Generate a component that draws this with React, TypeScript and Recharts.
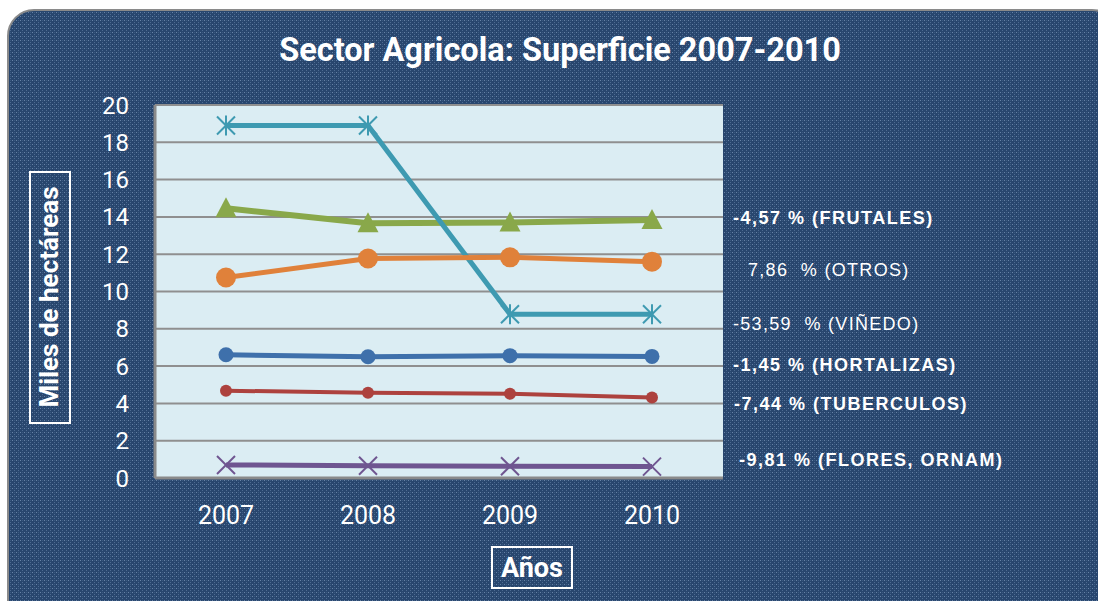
import React from "react";
import { LineChart, Line, XAxis, YAxis, CartesianGrid } from "recharts";

const years = ["2007", "2008", "2009", "2010"];
const hortalizas = [6.61, 6.5, 6.56, 6.52];
const tuberculos = [4.68, 4.57, 4.52, 4.32];
const frutales = [14.46, 13.66, 13.7, 13.84];
const flores = [0.7, 0.66, 0.63, 0.61];
const vinedo = [18.9, 18.9, 8.78, 8.78];
const otros = [10.75, 11.77, 11.83, 11.6];
const yTicks = [0, 2, 4, 6, 8, 10, 12, 14, 16, 18, 20];

const title = "Sector Agricola: Superficie 2007-2010";
const yTitle = "Miles de hectáreas";
const xTitle = "Años";
const sideLabels = [
  { text: "-4,57 % (FRUTALES)", x: 733, y: 224, bold: true },
  { text: "7,86  % (OTROS)", x: 748, y: 276, bold: false },
  { text: "-53,59  % (VIÑEDO)", x: 733, y: 330, bold: false },
  { text: "-1,45 % (HORTALIZAS)", x: 733, y: 371, bold: true },
  { text: "-7,44 % (TUBERCULOS)", x: 734, y: 410, bold: true },
  { text: "-9,81 % (FLORES, ORNAM)", x: 739, y: 466, bold: true },
];

const data = years.map((y, i) => ({
  year: y,
  hortalizas: hortalizas[i],
  tuberculos: tuberculos[i],
  frutales: frutales[i],
  flores: flores[i],
  vinedo: vinedo[i],
  otros: otros[i],
}));

const circleDot = (r: number, color: string) => (p: any) => (
  <circle key={p.index} cx={p.cx} cy={p.cy} r={r} fill={color} stroke="none" />
);

const triDot = (color: string) => (p: any) => {
  const w = 10.5, h = 20;
  return (
    <polygon
      key={p.index}
      points={`${p.cx},${p.cy - h / 2 - 1} ${p.cx - w},${p.cy + h / 2 - 1} ${p.cx + w},${p.cy + h / 2 - 1}`}
      fill={color}
    />
  );
};

const xDot = (color: string, s: number) => (p: any) => (
  <g key={p.index} stroke={color} strokeWidth={2}>
    <line x1={p.cx - s} y1={p.cy - s} x2={p.cx + s} y2={p.cy + s} />
    <line x1={p.cx - s} y1={p.cy + s} x2={p.cx + s} y2={p.cy - s} />
  </g>
);

const starDot = (color: string, s: number) => (p: any) => (
  <g key={p.index} stroke={color} strokeWidth={2}>
    <line x1={p.cx - s} y1={p.cy - s} x2={p.cx + s} y2={p.cy + s} />
    <line x1={p.cx - s} y1={p.cy + s} x2={p.cx + s} y2={p.cy - s} />
    <line x1={p.cx} y1={p.cy - s - 1} x2={p.cx} y2={p.cy + s + 1} />
  </g>
);

const FONT = "Roboto, 'Liberation Sans', sans-serif";

export default function App() {
  return (
    <div style={{ position: "absolute", left: 0, top: 0, width: 1098, height: 601, overflow: "hidden", background: "#ffffff" }}>
      <svg width={1098} height={601} style={{ position: "absolute", left: 0, top: 0 }}>
        <defs>
          <pattern id="bgpat" width="4" height="4" patternUnits="userSpaceOnUse">
            <rect width="4" height="4" fill="#28466e" />
            <rect x="0" y="0" width="1" height="1" fill="#6682a6" />
            <rect x="2" y="2" width="1" height="1" fill="#4d6b92" />
            <rect x="2" y="0" width="1" height="1" fill="#3b5a81" />
          </pattern>
        </defs>
        <rect x={8} y={10} width={1110} height={620} rx={26} ry={26} fill="url(#bgpat)" stroke="#8a8a8a" strokeWidth={2} />
      </svg>
      <div style={{ position: "absolute", left: 0, top: 0 }}>
        <LineChart width={1098} height={601} data={data} margin={{ top: 105, right: 375, bottom: 0, left: 0 }}>
          <CartesianGrid vertical={false} stroke="#8f8f8f" strokeWidth={2} fill="#dbedf3" fillOpacity={1} />
          <XAxis
            dataKey="year"
            height={123}
            padding={{ left: 71, right: 71 }}
            tickLine={false}
            tickSize={0}
            tickMargin={28}
            axisLine={{ stroke: "#8a8a8a", strokeWidth: 3 }}
            tick={{ fill: "#ffffff", fontSize: 25, fontFamily: FONT }}
            interval={0}
          />
          <YAxis
            width={155}
            domain={[0, 20]}
            ticks={yTicks}
            interval={0}
            tickLine={false}
            tickSize={0}
            tickMargin={26}
            axisLine={{ stroke: "#8a8a8a", strokeWidth: 3 }}
            tick={{ fill: "#ffffff", fontSize: 24, fontFamily: FONT }}
          />
          <Line dataKey="hortalizas" stroke="#3e70ab" strokeWidth={5} dot={circleDot(7.5, "#3e70ab")} isAnimationActive={false} />
          <Line dataKey="tuberculos" stroke="#ad423e" strokeWidth={4} dot={circleDot(6, "#ad423e")} isAnimationActive={false} />
          <Line dataKey="frutales" stroke="#89a84a" strokeWidth={6} dot={triDot("#89a84a")} isAnimationActive={false} />
          <Line dataKey="flores" stroke="#6f5590" strokeWidth={5} dot={xDot("#6f5590", 9)} isAnimationActive={false} />
          <Line dataKey="vinedo" stroke="#3e9ab1" strokeWidth={5} dot={starDot("#3e9ab1", 9)} isAnimationActive={false} />
          <Line dataKey="otros" stroke="#e0813a" strokeWidth={5} dot={circleDot(10, "#e0813a")} isAnimationActive={false} />
        </LineChart>
      </div>
      <svg width={1098} height={601} style={{ position: "absolute", left: 0, top: 0, pointerEvents: "none" }}>
        <text x={560} y={61} textAnchor="middle" fill="#ffffff" fontSize={32.5} fontWeight="bold" fontFamily={FONT}>
          {title}
        </text>
        <rect x={30} y={172} width={40} height={251} fill="none" stroke="#ffffff" strokeWidth={2} />
        <text
          x={0}
          y={0}
          transform="translate(58,297) rotate(-90)"
          textAnchor="middle"
          fill="#ffffff"
          fontSize={26}
          fontWeight="bold"
          fontFamily={FONT}
        >
          {yTitle}
        </text>
        <rect x={492} y={547} width={80} height={41} fill="none" stroke="#ffffff" strokeWidth={2} />
        <text x={532} y={577} textAnchor="middle" fill="#ffffff" fontSize={27} fontWeight="bold" fontFamily={FONT}>
          {xTitle}
        </text>
        {sideLabels.map((l) => (
          <text
            key={l.text}
            x={l.x}
            y={l.y}
            fill="#ffffff"
            fontSize={18}
            fontWeight={l.bold ? "bold" : "normal"}
            letterSpacing={l.bold ? 1.5 : 1.3}
            fontFamily="'Liberation Sans', Arial, sans-serif"
            style={{ whiteSpace: "pre" }}
          >
            {l.text}
          </text>
        ))}
      </svg>
    </div>
  );
}
